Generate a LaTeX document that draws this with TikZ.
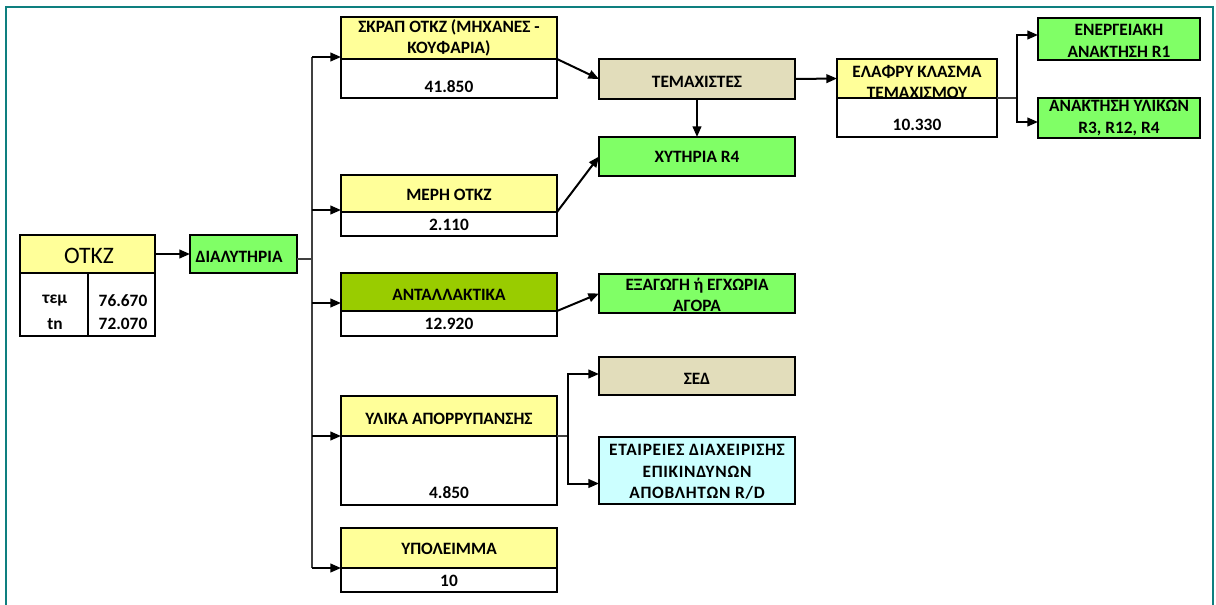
\documentclass[tikz,border=0pt]{standalone}
\usepackage{fontspec}
\setmainfont{Carlito}
\usetikzlibrary{arrows.meta,calc}
\definecolor{hdr}{HTML}{FFFF99}
\definecolor{grn}{HTML}{80FF66}
\definecolor{oliv}{HTML}{99CC00}
\definecolor{tanb}{HTML}{E2DDBB}
\definecolor{cyanb}{HTML}{CCFFFF}
\definecolor{frame}{HTML}{0E7F7F}
\newcommand\mkbox[6]{\node[bx,fill=#2,minimum width={(#5-#3)*0.75pt},minimum height={(#6-#4)*0.75pt}] (#1) at (#3,#4) {};}
\begin{document}
\begin{tikzpicture}[x=0.75pt,y=-0.75pt,
  bx/.style={draw=black, line width=2pt, inner sep=0pt, outer sep=0pt, anchor=north west},
  bord/.style={draw=black, line width=2pt},
  lbl/.style={font=\bfseries\fontsize{13}{16}\selectfont, align=center, inner sep=0pt},
  arr/.style={line width=1.5pt, -{Triangle[length=8pt,width=6.5pt]}},
  tline/.style={line width=0.8pt, black!75},
]
\useasboundingbox (0,0) rectangle (1216,604);
\draw[frame, line width=1.6pt] (6,620) -- (6,7) -- (1213,7) -- (1213,620);

% boxes
\mkbox{otkh}{hdr}{20}{235}{155}{273}
\mkbox{otkl}{white}{20}{273}{88}{336}
\mkbox{otkr}{white}{88}{273}{155}{336}
\mkbox{dia}{grn}{190}{235}{297}{273}
\mkbox{skh}{hdr}{341}{17}{557}{59}
\mkbox{skv}{white}{341}{59}{557}{98}
\mkbox{meh}{hdr}{341}{175}{557}{212}
\mkbox{mev}{white}{341}{212}{557}{236}
\mkbox{anh}{oliv}{341}{273}{557}{311}
\mkbox{anv}{white}{341}{311}{557}{336}
\mkbox{ylh}{hdr}{341}{396}{557}{436}
\mkbox{ylv}{white}{341}{436}{557}{505}
\mkbox{yph}{hdr}{341}{528}{557}{568}
\mkbox{ypv}{white}{341}{568}{557}{592}
\mkbox{tem}{tanb}{599}{59}{795}{99}
\mkbox{xyt}{grn}{599}{137}{795}{176}
\mkbox{exa}{grn}{599}{274}{795}{313}
\mkbox{sed}{tanb}{599}{357}{795}{395}
\mkbox{eta}{cyanb}{599}{437}{795}{504}
\mkbox{elh}{hdr}{837}{59}{997}{98}
\mkbox{elv}{white}{837}{98}{997}{137}
\mkbox{ene}{grn}{1038}{18}{1200}{60}
\mkbox{ana}{grn}{1038}{98}{1200}{138}

% texts
\node[font=\fontsize{17.7}{20}\selectfont, inner sep=0pt] (totk) at (89,256) {ΟΤΚΖ};
\node[lbl] (ttem) at (55,301) {τεμ};
\node[lbl] (ttn) at (55,324) {tn};
\node[lbl] (tv1) at (123,301) {76.670};
\node[lbl] (tv2) at (123,324) {72.070};
\node[lbl] (tdia) at (239,257) {ΔΙΑΛΥΤΗΡΙΑ};
\node[lbl] (tsk) at (449,38) {ΣΚΡΑΠ ΟΤΚΖ (ΜΗΧΑΝΕΣ -\\ΚΟΥΦΑΡΙΑ)};
\node[lbl] (tskv) at (449,87) {41.850};
\node[lbl] (tme) at (449,195) {ΜΕΡΗ ΟΤΚΖ};
\node[lbl] (tmev) at (449,225) {2.110};
\node[lbl] (tan) at (449,295) {ΑΝΤΑΛΛΑΚΤΙΚΑ};
\node[lbl] (tanv) at (449,324) {12.920};
\node[lbl] (tyl) at (449,419) {ΥΛΙΚΑ ΑΠΟΡΡΥΠΑΝΣΗΣ};
\node[lbl] (tylv) at (449,493) {4.850};
\node[lbl] (typ) at (449,549) {ΥΠΟΛΕΙΜΜΑ};
\node[lbl] (typv) at (449,581) {10};
\node[lbl] (ttm) at (697,82) {ΤΕΜΑΧΙΣΤΕΣ};
\node[lbl] (txy) at (697,157) {ΧΥΤΗΡΙΑ R4};
\node[lbl] (tex) at (697,295) {ΕΞΑΓΩΓΗ ή ΕΓΧΩΡΙΑ\\ΑΓΟΡΑ};
\node[lbl] (tse) at (697,379) {ΣΕΔ};
\node[lbl, font=\bfseries\fontsize{13}{16}\selectfont\addfontfeature{LetterSpace=4}] (tet) at (697,472) {ΕΤΑΙΡΕΙΕΣ ΔΙΑΧΕΙΡΙΣΗΣ\\ΕΠΙΚΙΝΔΥΝΩΝ\\ΑΠΟΒΛΗΤΩΝ R/D};
\node[lbl] (tel) at (917,82) {ΕΛΑΦΡΥ ΚΛΑΣΜΑ\\ΤΕΜΑΧΙΣΜΟΥ};
\node[lbl] (telv) at (917,125) {10.330};
\node[lbl] (ten) at (1119,41) {ΕΝΕΡΓΕΙΑΚΗ\\ΑΝΑΚΤΗΣΗ R1};
\node[lbl] (tana) at (1119,118) {ΑΝΑΚΤΗΣΗ ΥΛΙΚΩΝ\\R3, R12, R4};

% borders on top
\foreach \n in {otkh,otkl,otkr,dia,skh,skv,meh,mev,anh,anv,ylh,ylv,yph,ypv,tem,xyt,exa,sed,eta,elh,elv,ene,ana}
  \draw[bord] (\n.north west) rectangle (\n.south east);

% connectors
\draw[arr] (otkh.east) -- (dia.west);
\coordinate (tr) at (312,259);
\draw[tline] ($(dia.east)+(0,5)$) -- (tr);
\draw[tline] ($(tr |- skh.south)+(0,-2)$) -- (tr |- yph.south);
\draw[arr] ($(tr |- skh.south)+(0,-2)$) -- ($(skh.south west)+(0,-2)$);
\draw[arr] ($(tr |- meh.south)+(0,-2)$) -- ($(meh.south west)+(0,-2)$);
\draw[arr] ($(tr |- anh.south)+(0,-8)$) -- ($(anh.south west)+(0,-8)$);
\draw[arr] (tr |- ylh.south) -- (ylh.south west);
\draw[arr] (tr |- yph.south) -- (yph.south west);

\draw[arr] (skh.south east) -- (tem.west);
\draw[arr] (meh.south east) -- (xyt.west);
\draw[arr] (anh.south east) -- (exa.west);
\draw[arr] (tem.south) -- (xyt.north);
\draw[arr] (tem.east) -- (elh.west);

\coordinate (yb) at (568,436);
\coordinate (etain) at ($(eta.west)+(0,13)$);
\draw[tline] (ylh.south east) -- (yb);
\draw[arr] (yb) |- ($(sed.west)+(0,-2)$);
\draw[arr] (yb) |- (etain);

\coordinate (eb) at (1017,98);
\coordinate (enein) at ($(ene.west)+(0,-4)$);
\coordinate (anain) at ($(ana.west)+(0,4)$);
\draw[tline] (elh.south east) -- (eb);
\draw[arr] (eb) |- (enein);
\draw[arr] (eb) |- (anain);
\end{tikzpicture}
\end{document}
